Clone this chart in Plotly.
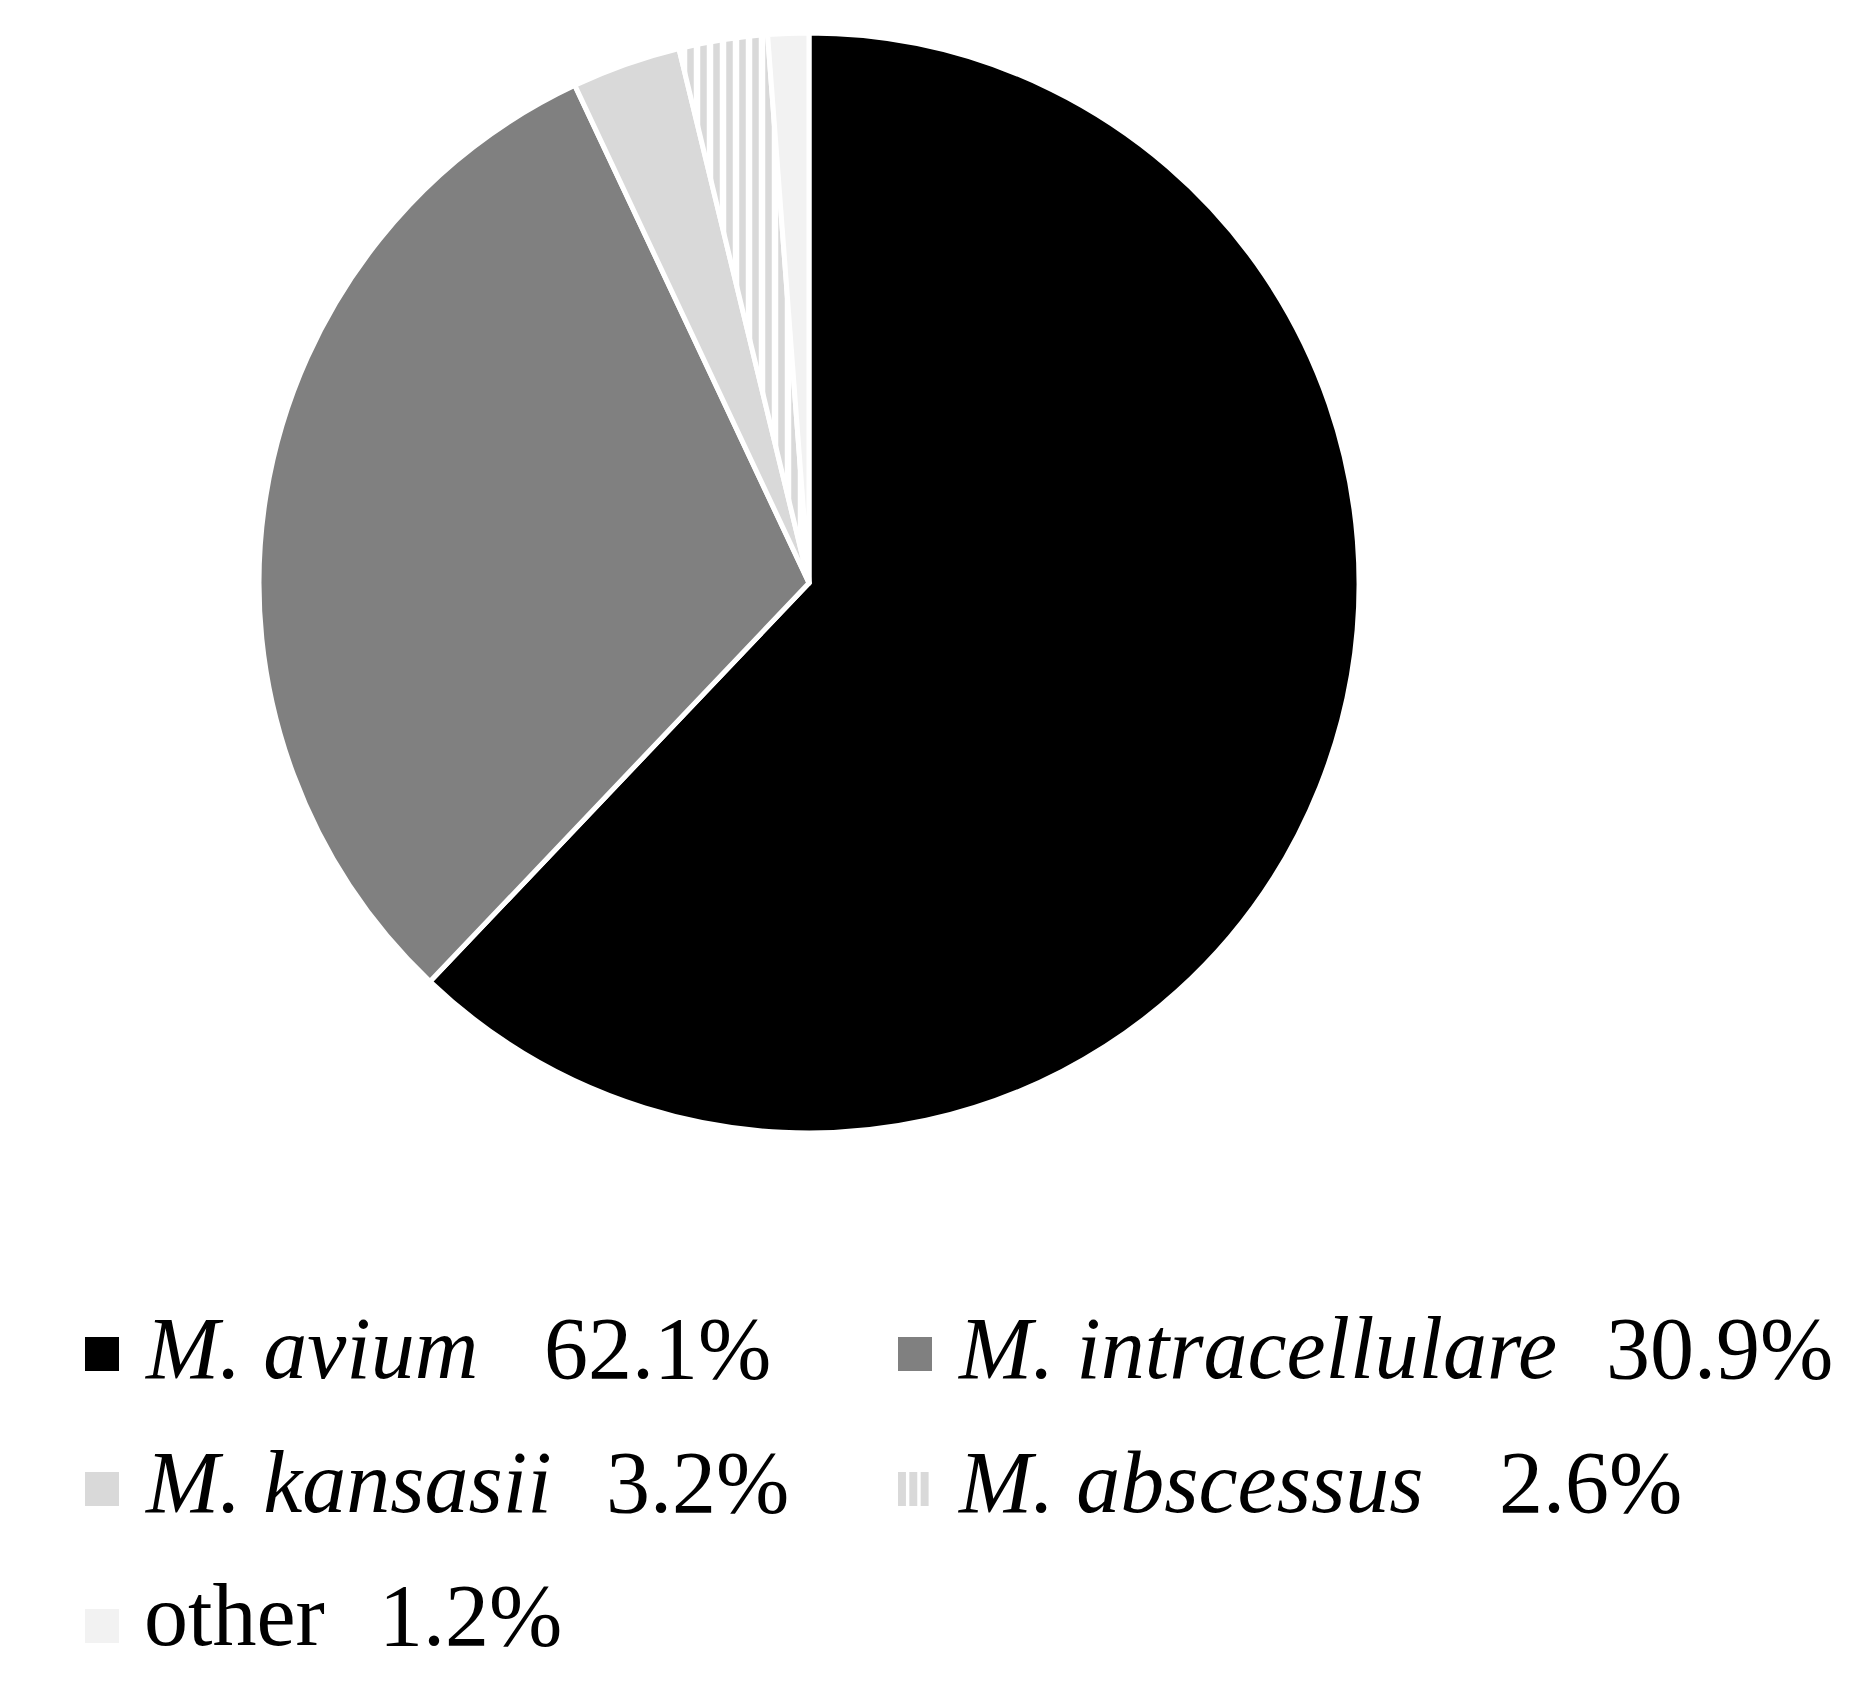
import plotly.graph_objects as go

# ---- data ----
labels = ["M. avium", "M. intracellulare", "M. kansasii", "M. abscessus", "other"]
values = [62.1, 30.9, 3.2, 2.6, 1.2]
italic = [True, True, True, True, False]

# ---- styles ----
colors = ["#000000", "#808080", "#d9d9d9", "#ffffff", "#f2f2f2"]
patterns = ["", "", "", "|", ""]
STRIPE = "#d9d9d9"

W, H = 1860, 1693
OFF = 8  # default body margin of the html page


def px(x):
    return (x - OFF) / W


def py(y):
    return 1 - (y - OFF) / H


cx, cy, r = 809, 583, 550

fig = go.Figure(
    go.Pie(
        labels=labels,
        values=values,
        sort=False,
        direction="clockwise",
        rotation=0,
        marker=dict(
            colors=colors,
            line=dict(color="white", width=5),
            pattern=dict(shape=patterns, fgcolor=STRIPE, size=13, solidity=0.5),
        ),
        textinfo="none",
        hoverinfo="label+percent",
        showlegend=False,
        domain=dict(x=[px(cx - r), px(cx + r)], y=[py(cy + r), py(cy - r)]),
    )
)

# ---- custom legend (2 columns) ----
FONT = "Liberation Serif, Times New Roman, serif"
FS = 88
marker_x = [85, 898]
text_x = [142, 955]
row_mid = [1354, 1489, 1626]
text_mid = [1348, 1482, 1615]
pct_x = [542, 1604, 604, 1497, 377]
MS = 34

shapes = []
annotations = []
for i, (lab, val) in enumerate(zip(labels, values)):
    row, col = divmod(i, 2)
    x0 = marker_x[col]
    y0 = row_mid[row] - MS / 2
    if patterns[i] == "|":
        sw = MS / 3
        for k in range(3):
            shapes.append(dict(type="rect", xref="paper", yref="paper",
                               x0=px(x0 + k * sw), x1=px(x0 + k * sw + sw * 0.7),
                               y0=py(y0 + MS), y1=py(y0),
                               fillcolor=STRIPE, line=dict(width=0)))
    else:
        shapes.append(dict(type="rect", xref="paper", yref="paper",
                           x0=px(x0), x1=px(x0 + MS), y0=py(y0 + MS), y1=py(y0),
                           fillcolor=colors[i], line=dict(width=0)))
    name = f"<i>{lab}</i>" if italic[i] else lab
    annotations.append(dict(text=name, x=px(text_x[col]), y=py(text_mid[row]),
                            xref="paper", yref="paper", xanchor="left", yanchor="middle",
                            showarrow=False, font=dict(family=FONT, size=FS, color="black")))
    annotations.append(dict(text=f"{val:.1f}%", x=px(pct_x[i]), y=py(text_mid[row]),
                            xref="paper", yref="paper", xanchor="left", yanchor="middle",
                            showarrow=False, font=dict(family=FONT, size=FS, color="black")))

fig.update_layout(
    width=W,
    height=H,
    margin=dict(l=0, r=0, t=0, b=0),
    paper_bgcolor="white",
    plot_bgcolor="white",
    shapes=shapes,
    annotations=annotations,
)

fig.write_html("out.html")
